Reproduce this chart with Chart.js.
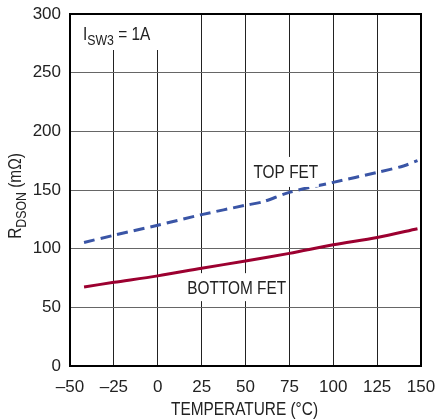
<!DOCTYPE html>
<html>
<head>
<meta charset="utf-8">
<script src="https://cdn.jsdelivr.net/npm/chart.js@4"></script>
<style>
html,body{margin:0;padding:0;background:#fff;}
#wrap{width:436px;height:419px;position:relative;}
</style>
</head>
<body>
<div id="wrap"><canvas id="c" width="436" height="419"></canvas></div>
<script>
const topTemps = [-42, -25, 0, 25, 50, 60, 75, 100, 125, 140, 148];
const topFet   = [105.3, 111.4, 120, 129, 137, 140, 148, 156.5, 165, 170.5, 175];
const botTemps = [-42, -25, 0, 25, 50, 75, 100, 125, 148];
const bottomFet = [67.4, 71.3, 76.8, 83.3, 89.5, 96, 103.3, 109.6, 117];
const xTicks = [-50, -25, 0, 25, 50, 75, 100, 125, 150];
const yTicks = [0, 50, 100, 150, 200, 250, 300];

const FONT = '"Liberation Sans", Arial, sans-serif';
const TXT = '#222';
const SQ = 0.88; // horizontal condensing for label text

function drawSub(ctx, parts, x, y, size, align) {
  let w = 0;
  parts.forEach(p => {
    ctx.font = (p[1] ? size * 0.8 : size) + 'px ' + FONT;
    w += ctx.measureText(p[0]).width;
  });
  ctx.save();
  ctx.translate(x, y);
  ctx.scale(SQ, 1);
  let cx = align === 'center' ? -w / 2 : 0;
  ctx.textAlign = 'left';
  parts.forEach(p => {
    ctx.font = (p[1] ? size * 0.8 : size) + 'px ' + FONT;
    ctx.fillText(p[0], cx, p[1] ? size * 0.27 : 0);
    cx += ctx.measureText(p[0]).width;
  });
  ctx.restore();
}

const overlay = {
  id: 'overlay',
  afterDatasetsDraw(chart) {
    const ctx = chart.ctx;
    const a = chart.chartArea;
    const xs = chart.scales.x, ys = chart.scales.y;
    ctx.save();
    ctx.fillStyle = TXT;
    ctx.textBaseline = 'alphabetic';
    function box(x1, y1, x2, y2) {
      ctx.fillStyle = '#fff';
      ctx.fillRect(x1, y1, x2 - x1, y2 - y1);
      ctx.fillStyle = TXT;
    }
    // I_SW3 = 1A
    box(a.left + 8, a.top + 1, a.left + 90, a.top + 36);
    drawSub(ctx, [['I', false], ['SW3', true], [' = 1A', false]], a.left + 13, a.top + 26, 17.5, 'left');
    // TOP FET
    const tx = xs.getPixelForValue(73), ty = ys.getPixelForValue(165.4);
    box(tx - 33, ty - 15, tx + 33, ty + 15);
    drawSub(ctx, [['TOP FET', false]], tx, ty + 6.5, 17.5, 'center');
    // BOTTOM FET
    const bx = xs.getPixelForValue(45), by = ys.getPixelForValue(67.2);
    box(bx - 50, by - 14, bx + 50, by + 14);
    drawSub(ctx, [['BOTTOM FET', false]], bx, by + 6.5, 17.5, 'center');
    // border
    ctx.strokeStyle = '#000';
    ctx.lineWidth = 2;
    ctx.strokeRect(a.left, a.top, a.right - a.left, a.bottom - a.top);
    // axis titles
    drawSub(ctx, [['TEMPERATURE (°C)', false]], (a.left + a.right) / 2 - 1, 415, 17.5, 'center');
    ctx.translate(21, 196);
    ctx.rotate(-Math.PI / 2);
    drawSub(ctx, [['R', false], ['DSON', true], [' (mΩ)', false]], 0, 0, 17.5, 'center');
    ctx.restore();
  }
};

new Chart(document.getElementById('c'), {
  type: 'line',
  data: {
    datasets: [
      {
        label: 'TOP FET',
        data: topTemps.map((t, i) => ({ x: t, y: topFet[i] })),
        borderColor: '#3a55a6',
        borderWidth: 3,
        borderDash: [11, 6],
        pointRadius: 0,
        tension: 0.3,
        fill: false
      },
      {
        label: 'BOTTOM FET',
        data: botTemps.map((t, i) => ({ x: t, y: bottomFet[i] })),
        borderColor: '#9c0030',
        borderWidth: 3,
        pointRadius: 0,
        tension: 0.3,
        fill: false
      }
    ]
  },
  options: {
    responsive: false,
    animation: false,
    devicePixelRatio: 1,
    layout: { padding: { top: 14, right: 15, left: 0, bottom: 0 } },
    plugins: { legend: { display: false }, tooltip: { enabled: false } },
    scales: {
      x: {
        type: 'linear',
        min: -50, max: 150,
        afterBuildTicks(s) { s.ticks = xTicks.map(v => ({ value: v })); },
        afterFit(s) { s.height = 53; s.paddingLeft = 0; s.paddingRight = 0; },
        grid: { color: '#222', lineWidth: 1, drawTicks: false },
        border: { display: false },
        ticks: {
          color: TXT,
          padding: 11,
          maxRotation: 0,
          autoSkip: false,
          font: { family: FONT, size: 17 },
          callback: v => (v < 0 ? '–' + Math.abs(v) : '' + v)
        }
      },
      y: {
        min: 0, max: 300,
        afterBuildTicks(s) { s.ticks = yTicks.map(v => ({ value: v })); },
        afterFit(s) { s.width = 70; s.paddingTop = 0; s.paddingBottom = 0; },
        grid: { color: '#666', lineWidth: 1, drawTicks: false },
        border: { display: false },
        ticks: {
          color: TXT,
          padding: 9,
          font: { family: FONT, size: 17 }
        }
      }
    }
  },
  plugins: [overlay]
});
</script>
</body>
</html>
